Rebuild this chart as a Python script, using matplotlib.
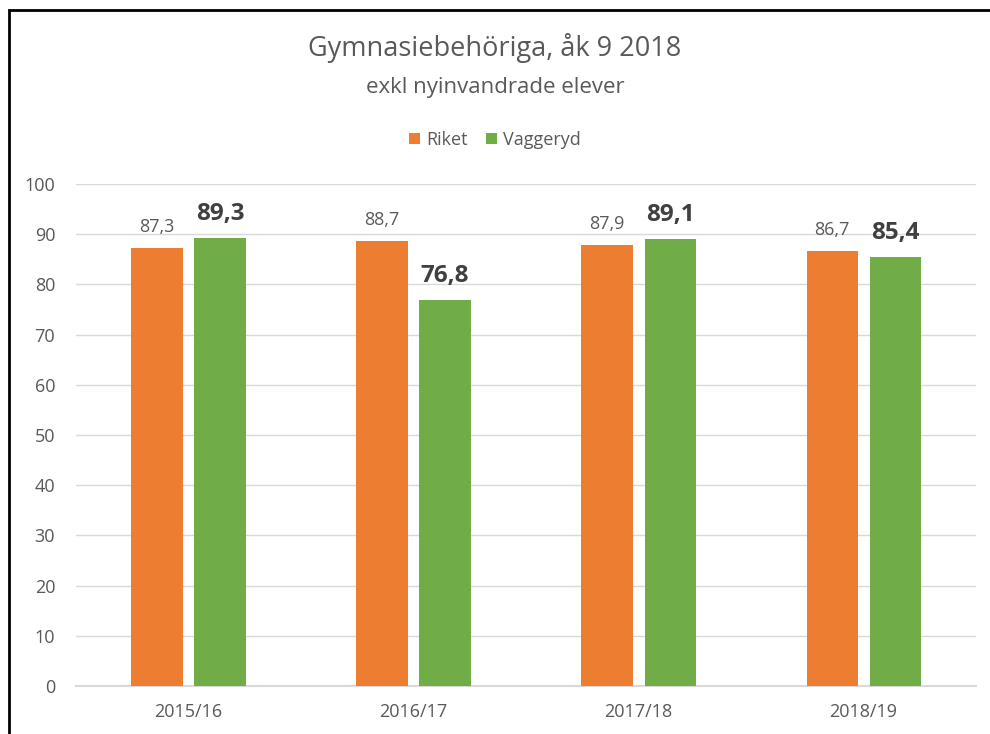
import numpy as np
import matplotlib.pyplot as plt
from matplotlib.patches import Rectangle

years = ['2015/16', '2016/17', '2017/18', '2018/19']
riket = [87.3, 88.7, 87.9, 86.7]
vaggeryd = [89.3, 76.8, 89.1, 85.4]

plt.rcParams['font.family'] = ['Open Sans', 'DejaVu Sans']
grey = '#595959'
orange = '#ed7d31'
green = '#70ad47'

fig = plt.figure(figsize=(9.9, 7.34), dpi=100)
ax = fig.add_axes([0.0768, 0.0654, 0.9091, 0.6839])

x = np.arange(len(years))
w = 0.227
off = 0.14
ax.bar(x - off, riket, w, color=orange, label='Riket', zorder=3)
ax.bar(x + off, vaggeryd, w, color=green, label='Vaggeryd', zorder=3)

# data labels, comma as decimal sign
for i in range(len(years)):
    ax.annotate(f"{riket[i]:.1f}".replace('.', ','), (x[i] - off, riket[i]),
                xytext=(0, 11.5), textcoords='offset points', ha='center',
                va='baseline', fontsize=13, color=grey)
    ax.annotate(f"{vaggeryd[i]:.1f}".replace('.', ','), (x[i] + off, vaggeryd[i]),
                xytext=(0, 13), textcoords='offset points', ha='center',
                va='baseline', fontsize=17.5, fontweight='bold', color='#404040')

ax.set_xlim(-0.5, 3.5)
ax.set_ylim(0, 100)
ax.set_yticks(range(0, 101, 10))
ax.set_xticks(x)
ax.set_xticklabels(years)
ax.grid(axis='y', color='#d9d9d9', linewidth=1, zorder=0)
for s in ['top', 'right', 'left']:
    ax.spines[s].set_visible(False)
ax.spines['bottom'].set_color('#d9d9d9')
ax.spines['bottom'].set_linewidth(1.5)
ax.tick_params(length=0, labelsize=13, colors=grey)
ax.tick_params(axis='x', pad=12)
ax.tick_params(axis='y', pad=15)

fig.text(0.5, 0.934, 'Gymnasiebehöriga, åk 9 2018', ha='center', va='center',
         fontsize=19.5, color=grey)
fig.text(0.5, 0.881, 'exkl nyinvandrade elever', ha='center', va='center',
         fontsize=16, color=grey)
ax.legend(loc='center', bbox_to_anchor=(0.5, 0.8093), bbox_transform=fig.transFigure,
          ncol=2, frameon=False, fontsize=13, handlelength=0.6, handleheight=0.6,
          handletextpad=0.35, columnspacing=1.0, labelcolor=grey)

fig.patches.append(Rectangle((9 / 990, -0.1), 1.2, (734 - 10) / 734 + 0.1,
                             transform=fig.transFigure, fill=False,
                             edgecolor='black', linewidth=2))

fig.savefig('out.png', dpi=100)
